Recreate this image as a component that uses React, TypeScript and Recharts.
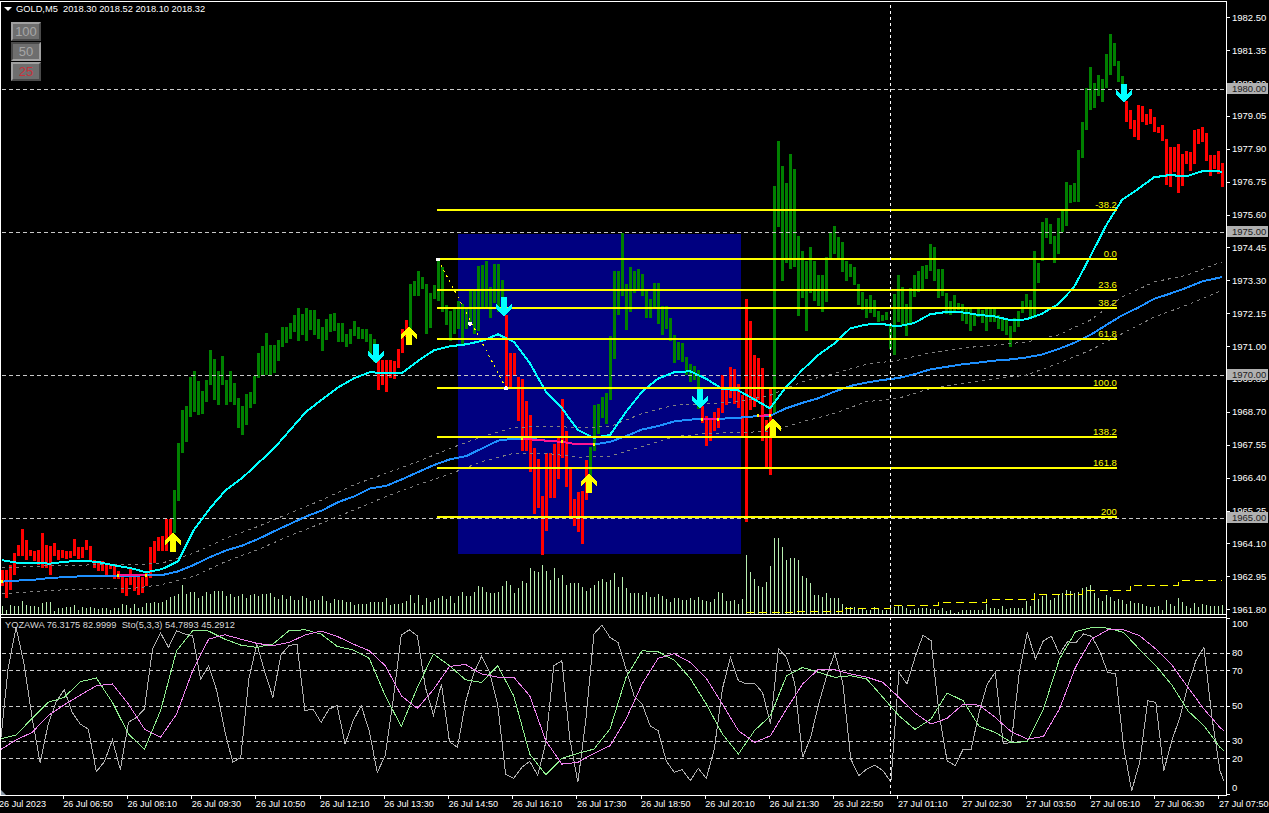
import {
    Bar,
    Cell,
    ComposedChart,
    Line,
    ReferenceArea,
    ReferenceDot,
    ReferenceLine,
    XAxis,
    YAxis,
} from 'recharts';

const FONT = '"Liberation Sans", sans-serif';
const LAST_BAR = 305;

// tops of the candles, one per bar
const highs = [
    1963.2, 1963.2, 1963.37, 1963.78, 1964.07, 1964.62, 1964.25, 1963.9, 1963.87, 1963.9,
    1964.48, 1964.07, 1964.04, 1964.13, 1963.9, 1963.9, 1963.87, 1963.87, 1964.27, 1963.99,
    1963.99, 1964.25, 1964.04, 1963.55, 1963.49, 1963.52, 1963.37, 1963.37, 1963.37, 1963.14,
    1962.97, 1962.91, 1963.22, 1962.97, 1962.94, 1962.94, 1963.08, 1963.99, 1964.19, 1964.34,
    1964.39, 1964.97, 1964.97, 1965.99, 1967.62, 1968.78, 1968.92, 1969.92, 1970.14, 1969.81,
    1969.46, 1969.83, 1970.88, 1970.58, 1970.14, 1970.67, 1969.83, 1970.14, 1969.71, 1969.22,
    1968.92, 1969.36, 1969.42, 1969.97, 1970.76, 1971.02, 1971.49, 1971.05, 1971.05, 1971.22,
    1971.67, 1971.67, 1971.84, 1972.1, 1972.36, 1972.13, 1972.36, 1972.27, 1972.29, 1971.98,
    1971.67, 1971.98, 1972.15, 1972.19, 1971.81, 1971.81, 1971.43, 1971.63, 1971.9, 1971.67,
    1971.63, 1971.63, 1971.43, 1971.25, 1970.53, 1970.53, 1970.53, 1970.53, 1970.49, 1970.9,
    1971.63, 1971.92, 1973.2, 1973.28, 1973.63, 1973.45, 1973.2, 1972.86, 1973.17, 1974.07,
    1973.8, 1972.44, 1972.23, 1972.34, 1972.58, 1972.5, 1972.33, 1972.94, 1972.97, 1973.81,
    1973.87, 1973.98, 1973.08, 1973.9, 1973.9, 1973.33, 1972.09, 1970.79, 1970.76, 1969.92,
    1969.88, 1969.09, 1968.6, 1967.44, 1967.07, 1965.79, 1967.27, 1967.27, 1967.59, 1967.79,
    1969.16, 1968.05, 1966.74, 1965.66, 1965.93, 1965.95, 1967.03, 1967.5, 1968.95, 1968.99,
    1969.23, 1969.38, 1971.36, 1973.66, 1973.66, 1974.97, 1973.18, 1973.77, 1973.63, 1973.7,
    1973.55, 1973.02, 1972.65, 1973.24, 1973.24, 1972.41, 1972.41, 1972.01, 1971.4, 1971.16,
    1971.12, 1970.63, 1970.38, 1970.31, 1970.17, 1968.92, 1968.57, 1968.43, 1968.71, 1968.84,
    1970.0, 1969.48, 1970.28, 1970.21, 1969.69, 1969.3, 1972.67, 1971.88, 1970.7, 1970.59,
    1970.24, 1968.43, 1969.6, 1976.63, 1978.2, 1977.33, 1976.73, 1977.75, 1977.22, 1974.88,
    1974.36, 1974.0, 1974.47, 1974.0, 1973.49, 1973.52, 1974.15, 1975.0, 1975.23, 1974.85,
    1974.65, 1974.0, 1973.9, 1973.77, 1973.2, 1972.9, 1972.67, 1972.79, 1972.64, 1972.23,
    1972.09, 1972.21, 1971.78, 1972.85, 1973.52, 1973.1, 1972.48, 1973.06, 1973.52, 1973.66,
    1973.81, 1973.87, 1974.6, 1974.47, 1973.72, 1973.73, 1972.88, 1972.6, 1972.79, 1972.52,
    1972.5, 1972.32, 1972.32, 1972.15, 1972.32, 1972.27, 1972.32, 1972.32, 1972.32, 1972.09,
    1972.0, 1971.92, 1971.71, 1972.0, 1972.23, 1972.6, 1972.85, 1972.62, 1974.36, 1973.93,
    1975.35, 1975.5, 1975.27, 1974.88, 1975.5, 1975.78, 1976.74, 1976.66, 1976.73, 1977.88,
    1978.86, 1980.03, 1980.78, 1980.23, 1980.49, 1980.35, 1981.22, 1981.92, 1981.6, 1980.99,
    1980.46, 1979.59, 1979.28, 1978.92, 1979.45, 1979.4, 1979.15, 1979.3, 1979.03, 1978.68,
    1978.75, 1978.25, 1977.99, 1977.99, 1978.08, 1977.73, 1977.85, 1977.81, 1978.57, 1978.61,
    1978.68, 1978.47, 1977.71, 1977.7, 1977.85, 1977.43,
];

const lows = [
    1962.62, 1962.21, 1962.5, 1963.03, 1963.67, 1963.67, 1963.55, 1963.67, 1963.49, 1963.37,
    1963.26, 1963.26, 1963.03, 1963.67, 1963.55, 1963.61, 1963.57, 1963.61, 1963.67, 1963.57,
    1963.61, 1963.9, 1963.55, 1963.26, 1963.14, 1963.14, 1962.94, 1963.22, 1962.87, 1962.87,
    1962.39, 1962.27, 1962.68, 1962.44, 1962.33, 1962.39, 1962.62, 1962.91, 1963.43, 1963.84,
    1963.84, 1963.87, 1964.25, 1964.48, 1965.61, 1967.29, 1967.68, 1968.55, 1968.72, 1968.61,
    1968.64, 1969.07, 1969.65, 1969.15, 1968.96, 1969.65, 1968.96, 1969.07, 1968.96, 1968.17,
    1967.91, 1968.26, 1968.87, 1968.99, 1969.89, 1970.0, 1970.0, 1970.0, 1970.08, 1970.5,
    1970.99, 1971.13, 1971.28, 1971.52, 1971.2, 1971.4, 1971.2, 1971.57, 1971.4, 1971.28,
    1970.85, 1971.22, 1971.52, 1971.54, 1971.17, 1971.17, 1970.97, 1971.08, 1971.38, 1971.28,
    1971.28, 1971.17, 1970.7, 1970.47, 1969.5, 1969.65, 1969.42, 1969.89, 1969.85, 1970.24,
    1970.78, 1971.34, 1971.05, 1972.76, 1972.76, 1973.0, 1971.43, 1971.64, 1972.65, 1972.58,
    1972.2, 1971.74, 1971.19, 1971.43, 1971.6, 1971.08, 1971.6, 1971.86, 1971.45, 1971.53,
    1972.36, 1972.36, 1972.0, 1972.53, 1972.21, 1972.15, 1969.53, 1969.59, 1970.0, 1968.39,
    1967.35, 1967.35, 1966.63, 1965.15, 1965.35, 1963.72, 1964.56, 1965.7, 1965.7, 1966.37,
    1967.12, 1966.1, 1965.08, 1964.73, 1964.53, 1964.1, 1965.64, 1966.45, 1967.35, 1967.94,
    1968.52, 1968.31, 1969.13, 1970.56, 1972.09, 1972.76, 1971.57, 1972.2, 1972.86, 1973.03,
    1972.76, 1971.99, 1971.99, 1972.38, 1971.78, 1971.4, 1971.6, 1971.2, 1970.44, 1970.52,
    1970.46, 1970.0, 1969.77, 1969.83, 1968.81, 1968.34, 1967.52, 1967.7, 1968.05, 1968.15,
    1968.69, 1968.95, 1969.2, 1968.99, 1968.85, 1967.87, 1964.88, 1968.78, 1968.9, 1969.13,
    1967.7, 1966.8, 1966.51, 1968.67, 1975.17, 1973.31, 1973.92, 1973.72, 1973.8, 1972.06,
    1972.7, 1971.53, 1972.87, 1972.6, 1972.41, 1972.2, 1972.56, 1974.1, 1974.25, 1974.1,
    1973.6, 1973.28, 1973.43, 1973.14, 1972.44, 1972.29, 1972.0, 1972.17, 1972.03, 1971.86,
    1971.9, 1971.92, 1970.93, 1970.7, 1971.86, 1971.71, 1971.36, 1971.8, 1972.73, 1972.9,
    1972.99, 1973.37, 1973.66, 1973.29, 1972.7, 1972.76, 1972.13, 1972.09, 1972.24, 1972.27,
    1971.9, 1971.78, 1971.53, 1971.71, 1972.03, 1971.83, 1971.53, 1971.86, 1971.86, 1971.63,
    1971.53, 1971.42, 1970.99, 1971.51, 1971.69, 1972.17, 1972.33, 1972.0, 1972.0, 1973.22,
    1974.01, 1974.79, 1974.6, 1973.92, 1974.25, 1975.0, 1975.23, 1976.01, 1976.04, 1976.04,
    1977.58, 1978.58, 1979.28, 1979.36, 1979.77, 1979.56, 1980.03, 1980.5, 1980.81, 1980.25,
    1979.77, 1978.87, 1978.6, 1978.33, 1978.23, 1978.86, 1978.75, 1978.8, 1978.51, 1978.47,
    1978.2, 1976.66, 1976.57, 1977.09, 1976.36, 1976.63, 1977.38, 1977.15, 1977.38, 1978.08,
    1978.17, 1977.5, 1976.97, 1977.21, 1977.03, 1976.57,
];

// bars that closed down, first and last bar of every run
const redRuns = [
    [0, 42],
    [94, 101],
    [126, 146],
    [175, 192],
    [281, 305],
];

const volumes = [
    33, 17, 37, 33, 33, 53, 36, 33, 33, 29,
    43, 47, 49, 11, 24, 25, 27, 27, 36, 17,
    28, 25, 27, 23, 19, 24, 24, 15, 23, 23,
    41, 36, 24, 41, 24, 28, 45, 45, 48, 44,
    47, 55, 67, 73, 81, 117, 81, 88, 89, 64,
    71, 89, 81, 93, 93, 93, 71, 79, 67, 71,
    81, 64, 76, 81, 73, 79, 81, 84, 67, 61,
    77, 61, 71, 55, 57, 71, 64, 53, 57, 57,
    73, 51, 44, 61, 57, 57, 49, 47, 36, 39,
    41, 41, 49, 49, 49, 49, 64, 37, 41, 41,
    44, 51, 77, 44, 75, 37, 64, 48, 57, 64,
    73, 61, 73, 44, 74, 89, 73, 73, 89, 113,
    110, 89, 84, 84, 89, 113, 133, 118, 84, 105,
    133, 126, 184, 173, 170, 197, 173, 137, 184, 144,
    157, 117, 124, 126, 126, 110, 94, 104, 117, 133,
    141, 130, 138, 164, 110, 148, 104, 84, 84, 84,
    77, 90, 68, 70, 80, 74, 60, 47, 64, 64,
    55, 57, 64, 57, 70, 55, 51, 47, 61, 88,
    84, 53, 53, 55, 40, 61, 237, 168, 141, 113,
    110, 130, 193, 303, 303, 270, 217, 226, 223, 217,
    153, 144, 124, 77, 77, 70, 84, 64, 64, 64,
    41, 28, 28, 28, 24, 20, 17, 15, 28, 24,
    15, 15, 36, 28, 31, 31, 24, 17, 20, 24,
    24, 24, 21, 19, 17, 23, 11, 17, 4, 7,
    15, 15, 15, 15, 15, 15, 41, 24, 24, 20,
    33, 20, 23, 24, 24, 24, 51, 31, 84, 60,
    73, 80, 57, 64, 77, 84, 97, 94, 86, 90,
    104, 110, 117, 84, 64, 51, 77, 70, 51, 60,
    57, 41, 51, 44, 44, 41, 33, 28, 28, 31,
    17, 57, 41, 33, 64, 48, 33, 25, 44, 28,
    41, 37, 31, 33, 33, 37,
];

// yellow volume average, steps once an hour
const volumeAvgBars = [186, 198, 210, 222, 234, 246, 258, 270, 282, 294, 305];
const volumeAvg = [5, 10, 24, 36, 48, 60, 80, 96, 116, 133, 133];

// read every 4th bar, last entry is the last bar
const maFast = [
    1963.53, 1963.44, 1963.44, 1963.41, 1963.48, 1963.51, 1963.47, 1963.35, 1963.26, 1963.11,
    1963.22, 1963.49, 1964.6, 1965.35, 1965.99, 1966.4, 1966.92, 1967.44, 1968.08, 1968.72,
    1969.15, 1969.57, 1969.89, 1970.11, 1970.06, 1970.08, 1970.5, 1970.87, 1971.01, 1971.08,
    1971.2, 1971.43, 1971.16, 1970.41, 1969.42, 1968.84, 1968.08, 1967.81, 1967.91, 1968.72,
    1969.42, 1969.88, 1970.1, 1970.14, 1969.88, 1969.53, 1969.47, 1969.16, 1968.84, 1969.59,
    1970.17, 1970.7, 1971.1, 1971.63, 1971.77, 1971.79, 1971.71, 1971.82, 1972.13, 1972.21,
    1972.2, 1972.11, 1972.06, 1971.93, 1971.95, 1972.15, 1972.48, 1973.08, 1974.13, 1975.23,
    1976.13, 1976.51, 1976.92, 1977.0, 1976.95, 1977.13, 1977.15, 1977.1,
];

const maSlow = [
    1962.78, 1962.82, 1962.85, 1962.91, 1962.94, 1962.97, 1962.99, 1962.99, 1962.99, 1963.0,
    1963.01, 1963.14, 1963.37, 1963.64, 1963.87, 1964.04, 1964.27, 1964.54, 1964.8, 1965.06,
    1965.27, 1965.56, 1965.76, 1966.04, 1966.13, 1966.36, 1966.61, 1966.86, 1967.06, 1967.17,
    1967.44, 1967.71, 1967.78, 1967.78, 1967.71, 1967.67, 1967.58, 1967.58, 1967.67, 1967.87,
    1968.1, 1968.22, 1968.38, 1968.45, 1968.46, 1968.48, 1968.51, 1968.56, 1968.58, 1968.84,
    1969.03, 1969.19, 1969.42, 1969.62, 1969.74, 1969.83, 1969.9, 1970.03, 1970.2, 1970.29,
    1970.38, 1970.44, 1970.51, 1970.55, 1970.62, 1970.72, 1970.91, 1971.13, 1971.4, 1971.75,
    1972.09, 1972.36, 1972.67, 1972.85, 1973.05, 1973.28, 1973.4, 1973.43,
];

// stretches where the slow average turns pink
const slowDownBars = [
    [29, 36],
    [130, 136, 140, 144, 148],
    [175, 179],
    [189, 192],
];
const slowDownPrices = [
    [1963.0, 1963.0],
    [1967.78, 1967.71, 1967.67, 1967.58, 1967.58],
    [1968.46, 1968.46],
    [1968.58, 1968.6],
];
const slowTipBars = [0, 29, 36, 130, 140, 148, 175, 179, 189, 192];
const slowTipPrices = [1962.78, 1963.0, 1963.0, 1967.78, 1967.67, 1967.58, 1968.46, 1968.46, 1968.58, 1968.6];

// read every 8th bar, last entry is the last bar
const bandUpper = [
    1963.26, 1963.32, 1963.35, 1963.37, 1963.37, 1963.43, 1963.78, 1964.3, 1964.71, 1965.18,
    1965.64, 1966.17, 1966.57, 1966.98, 1967.44, 1967.85, 1968.17, 1968.22, 1968.17, 1968.2,
    1968.66, 1968.95, 1968.99, 1969.07, 1969.3, 1969.77, 1970.06, 1970.38, 1970.52, 1970.78,
    1970.95, 1971.05, 1971.16, 1971.4, 1971.92, 1972.73, 1973.26, 1973.49, 1973.92, 1973.95,
];
const bandLower = [
    1962.36, 1962.44, 1962.5, 1962.53, 1962.53, 1962.68, 1962.97, 1963.49, 1963.9, 1964.39,
    1964.83, 1965.29, 1965.76, 1966.17, 1966.55, 1966.98, 1967.27, 1967.27, 1967.13, 1967.17,
    1967.5, 1967.85, 1967.96, 1968.0, 1968.03, 1968.37, 1968.66, 1969.07, 1969.19, 1969.53,
    1969.71, 1969.88, 1970.0, 1970.41, 1970.87, 1971.45, 1972.03, 1972.44, 1972.91, 1972.95,
];

const fibLabels = ['-38.2', '0.0', '23.6', '38.2', '61.8', '100.0', '138.2', '161.8', '200'];
const fibPrices = [1975.76, 1974.05, 1972.97, 1972.34, 1971.26, 1969.55, 1967.84, 1966.76, 1965.05];
const fibStartBar = 109;
const fibEndBar = 278.3;

// the drawn box starts and ends between bars
const boxStartBar = 114.2;
const boxEndBar = 184.75;

const buyBars = [43, 102, 147, 193];
const buyPrices = [1964.49, 1971.71, 1966.55, 1968.5];
const sellBars = [93, 125, 174, 280];
const sellPrices = [1970.42, 1972.06, 1968.85, 1979.53];

const priceDomain = [1961.65, 1983.05];
const priceTicks = [
    1982.5, 1981.35, 1980.2, 1979.05, 1977.9, 1976.75, 1975.6, 1974.45, 1973.3, 1972.15,
    1971.0, 1969.85, 1968.7, 1967.55, 1966.4, 1965.25, 1964.1, 1962.95, 1961.8,
];
const roundPrices = [1980, 1975, 1970, 1965];

const stochTicks = [0, 20, 30, 50, 70, 80, 100];
const stochLevels = [20, 30, 50, 70, 80];

// read every 2nd bar, last entry is the last bar
const yozawa = [
    26.5, 71, 94.7, 73.8, 43.5, 17.6, 39.7, 52.4, 59.3, 46.4,
    39.7, 36.9, 12.7, 18.3, 30.8, 13.8, 40.7, 43.5, 48.3, 82.4,
    91.5, 83.3, 92.8, 90.9, 89.9, 65.3, 72.9, 58.7, 36, 18,
    20.8, 65.3, 85.2, 69.1, 54.9, 79, 84.3, 85.2, 47.3, 48.3,
    40.7, 48.3, 50.2, 28.4, 41.6, 50.2, 36, 12.3, 21.8, 53.9,
    90.3, 93.3, 89.9, 60.6, 44.9, 62.5, 29.7, 26.5, 52.1, 68.2,
    78.2, 69.1, 51.1, 11.3, 8.9, 15.1, 18.5, 10.8, 29.3, 72.9,
    75.7, 31.2, 6.6, 42.6, 90.9, 96, 89, 86.1, 71, 55.8,
    51.1, 38.8, 35.9, 18.9, 12.3, 13.8, 7.6, 14.6, 8.9, 25.5,
    59.6, 77.6, 64.4, 62.5, 63, 57.7, 39.7, 82.7, 77.6, 63.4,
    20.8, 32.2, 51.1, 67.2, 80.1, 63.4, 19.9, 10.4, 14.2, 16.4,
    13.2, 7, 69.1, 62.5, 77.6, 90.3, 87.1, 45.4, 18.9, 16.1,
    25.5, 25.5, 46.4, 62.5, 69.1, 28.4, 29.3, 69.1, 91.8, 76.7,
    87.1, 89.6, 79.5, 86.5, 85.8, 90.9, 89.6, 81.4, 69.1, 68.2,
    26.5, 1.9, 18, 53, 52.1, 13.2, 30.3, 43.5, 61.5, 75.7,
    83.3, 43.5, 13.2, 7.2,
];

// read every 4th bar, last entry is the last bar
const stochMain = [
    31.2, 33.5, 43, 52.1, 54.9, 63.8, 65.9, 52.1, 34.1, 25.5,
    47.3, 81.4, 92.8, 92.6, 88, 84.6, 83.3, 85.2, 92.8, 93.3,
    90.9, 83.9, 81.8, 77.1, 55.8, 38.4, 60.6, 79.5, 72.9, 64.9,
    63.4, 72.9, 55.8, 22.7, 11, 20.2, 23.1, 25.5, 36.9, 66.3,
    81.4, 80.8, 76.1, 65.7, 51.1, 34.1, 22.7, 36, 44.5, 67.2,
    71.9, 69.1, 66.3, 67.2, 65.3, 54.9, 44.5, 36.7, 42.6, 57.4,
    53, 38.4, 35, 29.3, 29.7, 48.3, 76.7, 92.2, 94.5, 94.3,
    91.8, 82, 72.9, 61.9, 47.3, 38.8, 26.5, 24.6,
];
const stochSignal = [
    25, 30.7, 35, 44.5, 50.7, 56.2, 61.5, 62.5, 51.1, 36.9,
    32.2, 45.4, 70, 88, 90.5, 88, 85.6, 84.3, 86.1, 90.3,
    92.6, 89.6, 85.2, 81.4, 72.9, 55.8, 48.6, 59.3, 72.5, 73.6,
    68.2, 66.4, 66.4, 55.8, 30.3, 17, 18, 23.1, 27.4, 42.6,
    62.5, 77.1, 79.7, 74.8, 65.7, 51.1, 36, 29.3, 33.1, 48.3,
    62.5, 71, 70.6, 68.2, 66.4, 63.4, 54.9, 46, 39.7, 43,
    51.1, 50.5, 43.5, 35.4, 31.2, 32.7, 48.3, 72, 88, 93.2,
    93.3, 89.9, 82.4, 73.3, 60.6, 48.3, 37.8, 36,
];

const timeTickBars = [
    0, 16, 32, 48, 64, 80, 96, 112, 128, 144,
    160, 176, 192, 208, 224, 240, 256, 272, 288, 304,
];
const timeLabels = [
    '26 Jul 2023', '26 Jul 06:50', '26 Jul 08:10', '26 Jul 09:30', '26 Jul 10:50',
    '26 Jul 12:10', '26 Jul 13:30', '26 Jul 14:50', '26 Jul 16:10', '26 Jul 17:30',
    '26 Jul 18:50', '26 Jul 20:10', '26 Jul 21:30', '26 Jul 22:50', '27 Jul 01:10',
    '27 Jul 02:30', '27 Jul 03:50', '27 Jul 05:10', '27 Jul 06:30', '27 Jul 07:50',
];

const sampled = (list: number[], step: number, i: number) => {
    if (i === LAST_BAR) return list[list.length - 1];
    return i % step === 0 ? list[i / step] : null;
};

const pick = (bars: number[], values: number[], i: number) => {
    const at = bars.indexOf(i);
    return at < 0 ? null : values[at];
};

const rows = highs.map((high, i) => {
    const row: Record<string, unknown> = {
        i,
        range: [lows[i], high],
        down: redRuns.some(([a, b]) => i >= a && i <= b),
        volume: volumes[i],
        volumeAvg: pick(volumeAvgBars, volumeAvg, i),
        maFast: sampled(maFast, 4, i),
        maSlow: sampled(maSlow, 4, i),
        bandUpper: sampled(bandUpper, 8, i),
        bandLower: sampled(bandLower, 8, i),
        yozawa: sampled(yozawa, 2, i),
        stochMain: sampled(stochMain, 4, i),
        stochSignal: sampled(stochSignal, 4, i),
        buy: pick(buyBars, buyPrices, i),
        sell: pick(sellBars, sellPrices, i),
    };
    slowDownBars.forEach((bars, s) => {
        row[`slowDown${s}`] = pick(bars, slowDownPrices[s], i);
    });
    return row;
});

const ArrowUp = (props: any) => {
    const { cx, cy, value, index } = props;
    if (cx == null || cy == null || value == null) return <g key={index} />;
    return (
        <polygon
            key={index}
            transform={`translate(${cx - 1},${cy})`}
            points="0,0 8,8 8,13 3,8 3,19 -3,19 -3,8 -8,13 -8,8"
            fill="#ffff00"
        />
    );
};

const ArrowDown = (props: any) => {
    const { cx, cy, value, index } = props;
    if (cx == null || cy == null || value == null) return <g key={index} />;
    return (
        <polygon
            key={index}
            transform={`translate(${cx + 2},${cy})`}
            points="0,0 8,-8 8,-13 3,-8 3,-19 -3,-19 -3,-8 -8,-13 -8,-8"
            fill="#00ffff"
        />
    );
};

const PriceTick = ({ y, payload }: any) => (
    <g>
        <line x1={1226} x2={1230} y1={y} y2={y} stroke="#ffffff" />
        <text x={1232} y={y + 3} fill="#ffffff" fontSize={9.5} fontFamily={FONT}>
            {payload.value.toFixed(2)}
        </text>
    </g>
);

const StochTick = ({ y, payload }: any) => {
    let shift = 3;
    if (payload.value === 100) shift = 9;
    if (payload.value === 0) shift = -3;
    return (
        <g>
            <line x1={1226} x2={1230} y1={y} y2={y} stroke="#ffffff" />
            <text x={1232} y={y + shift} fill="#ffffff" fontSize={9.5} fontFamily={FONT}>
                {payload.value}
            </text>
        </g>
    );
};

// y is local to the lower chart, which starts at 618 on the page
const TimeTick = ({ x, payload }: any) => (
    <g>
        <line x1={x - 1} x2={x - 1} y1={178} y2={181} stroke="#ffffff" />
        <text x={x - 1} y={189} fill="#ffffff" fontSize={9.1} fontFamily={FONT}>
            {timeLabels[timeTickBars.indexOf(payload.value)]}
        </text>
    </g>
);

const frameLines = [
    { left: 0, top: 1, width: 1227, height: 1 },
    { left: 0, top: 1, width: 1, height: 795 },
    { left: 1226, top: 1, width: 1, height: 795 },
    { left: 0, top: 614, width: 1227, height: 1 },
    { left: 0, top: 617, width: 1227, height: 1 },
    { left: 0, top: 795, width: 1227, height: 1 },
];

const buttons = [
    { label: '100', top: 22, color: '#a6a6a6', pressed: false },
    { label: '50', top: 42, color: '#a6a6a6', pressed: true },
    { label: '25', top: 62, color: '#c8323c', pressed: false },
];

export default function App() {
    return (
        <div
            style={{
                position: 'fixed',
                left: 0,
                top: 0,
                width: 1269,
                height: 813,
                background: '#000000',
                overflow: 'hidden',
                shapeRendering: 'crispEdges',
            }}
        >
            <div style={{ position: 'absolute', left: 0, top: 0 }}>
                <ComposedChart
                    width={1269}
                    height={614}
                    data={rows}
                    margin={{ top: 2, right: 45, bottom: 0, left: 0 }}
                >
                    <XAxis dataKey="i" hide />
                    <YAxis hide domain={[0, 2448]} allowDataOverflow />
                    <Bar dataKey="volume" barSize={1} fill="#b8eeb0" isAnimationActive={false} />
                    <Line
                        dataKey="volumeAvg"
                        type="stepAfter"
                        stroke="#ffff00"
                        strokeDasharray="8 5"
                        dot={false}
                        connectNulls
                        isAnimationActive={false}
                    />
                </ComposedChart>
            </div>

            <div style={{ position: 'absolute', left: 0, top: 0 }}>
                <ComposedChart
                    width={1269}
                    height={614}
                    data={rows}
                    margin={{ top: 2, right: 0, bottom: 0, left: 0 }}
                >
                    <XAxis dataKey="i" hide />
                    <XAxis xAxisId="between" type="number" domain={[-0.5, 305.5]} hide />
                    <YAxis
                        orientation="right"
                        width={45}
                        domain={priceDomain}
                        ticks={priceTicks}
                        interval={0}
                        allowDataOverflow
                        axisLine={false}
                        tickLine={false}
                        tick={<PriceTick />}
                    />
                    <ReferenceArea
                        xAxisId="between"
                        x1={boxStartBar}
                        x2={boxEndBar}
                        y1={1963.75}
                        y2={1974.95}
                        fill="#000080"
                        fillOpacity={1}
                        stroke="none"
                    />
                    {roundPrices.map((p) => (
                        <ReferenceLine key={p} y={p} stroke="#c8c8c8" strokeDasharray="4 3" />
                    ))}
                    <Bar dataKey="range" barSize={3} isAnimationActive={false}>
                        {rows.map((row) => (
                            <Cell key={String(row.i)} fill={row.down ? '#ff0000' : '#008000'} />
                        ))}
                    </Bar>
                    <Line dataKey="bandUpper" stroke="#808080" strokeDasharray="3 4" dot={false} connectNulls isAnimationActive={false} />
                    <Line dataKey="bandLower" stroke="#808080" strokeDasharray="3 4" dot={false} connectNulls isAnimationActive={false} />
                    <Line dataKey="maSlow" stroke="#1e90ff" strokeWidth={2} dot={false} connectNulls isAnimationActive={false} />
                    {slowDownBars.map((_, s) => (
                        <Line
                            key={s}
                            dataKey={`slowDown${s}`}
                            stroke="#ff1493"
                            strokeWidth={2}
                            dot={false}
                            connectNulls
                            isAnimationActive={false}
                        />
                    ))}
                    {slowTipBars.map((bar, t) => (
                        <ReferenceDot
                            key={t}
                            x={bar}
                            y={slowTipPrices[t]}
                            r={1.5}
                            fill="#ffff00"
                            stroke="none"
                        />
                    ))}
                    <Line dataKey="maFast" stroke="#00ffff" strokeWidth={2} dot={false} connectNulls isAnimationActive={false} />
                    {fibLabels.map((label, f) => (
                        <ReferenceLine
                            key={label}
                            xAxisId="between"
                            segment={[
                                { x: fibStartBar, y: fibPrices[f] },
                                { x: fibEndBar, y: fibPrices[f] },
                            ]}
                            stroke="#ffff00"
                            strokeWidth={2}
                            label={({ viewBox }: any) => (
                                <text
                                    x={viewBox.x + viewBox.width}
                                    y={viewBox.y - 2}
                                    textAnchor="end"
                                    fill="#ffff00"
                                    fontSize={9.5}
                                    fontFamily={FONT}
                                >
                                    {label}
                                </text>
                            )}
                        />
                    ))}
                    <ReferenceLine
                        segment={[
                            { x: 109, y: 1974.05 },
                            { x: 126, y: 1969.55 },
                        ]}
                        stroke="#ffff00"
                        strokeDasharray="2 4"
                    />
                    <ReferenceDot x={109} y={1974.05} r={2} fill="#ffffff" stroke="none" />
                    <ReferenceDot x={117} y={1971.8} r={2} fill="#ffffff" stroke="none" />
                    <ReferenceDot x={126} y={1969.55} r={2} fill="#ffffff" stroke="none" />
                    <ReferenceLine x={222} stroke="#ffffff" strokeDasharray="3 3" />
                    <Line dataKey="buy" stroke="none" dot={ArrowUp} isAnimationActive={false} />
                    <Line dataKey="sell" stroke="none" dot={ArrowDown} isAnimationActive={false} />
                </ComposedChart>
            </div>

            {/* round price tags sit on top of the axis labels */}
            <div style={{ position: 'absolute', left: 0, top: 0 }}>
                <ComposedChart
                    width={1269}
                    height={614}
                    data={rows}
                    margin={{ top: 2, right: 0, bottom: 0, left: 0 }}
                >
                    <XAxis dataKey="i" hide />
                    <YAxis orientation="right" width={45} domain={priceDomain} allowDataOverflow tick={false} axisLine={false} tickLine={false} />
                    {roundPrices.map((p) => (
                        <ReferenceLine
                            key={p}
                            y={p}
                            stroke="none"
                            label={({ viewBox }: any) => (
                                <g>
                                    <rect x={1227} y={viewBox.y - 6} width={41} height={11} fill="#b0b0b0" />
                                    <text x={1232} y={viewBox.y + 3} fill="#202020" fontSize={9.5} fontFamily={FONT}>
                                        {p.toFixed(2)}
                                    </text>
                                </g>
                            )}
                        />
                    ))}
                </ComposedChart>
            </div>

            <div style={{ position: 'absolute', left: 0, top: 618 }}>
                <ComposedChart
                    width={1269}
                    height={196}
                    data={rows}
                    margin={{ top: 0, right: 0, bottom: 0, left: 0 }}
                >
                    <XAxis
                        dataKey="i"
                        height={20}
                        ticks={timeTickBars}
                        interval={0}
                        axisLine={false}
                        tickLine={false}
                        tick={<TimeTick />}
                    />
                    <YAxis
                        orientation="right"
                        width={45}
                        domain={[0, 100]}
                        ticks={stochTicks}
                        interval={0}
                        axisLine={false}
                        tickLine={false}
                        tick={<StochTick />}
                    />
                    {stochLevels.map((level) => (
                        <ReferenceLine key={level} y={level} stroke="#c8c8c8" strokeDasharray="4 3" />
                    ))}
                    <Line dataKey="yozawa" stroke="#b0b0b0" dot={false} connectNulls isAnimationActive={false} />
                    <Line dataKey="stochMain" stroke="#90ee90" dot={false} connectNulls isAnimationActive={false} />
                    <Line dataKey="stochSignal" stroke="#ee82ee" dot={false} connectNulls isAnimationActive={false} />
                    <ReferenceLine x={222} stroke="#ffffff" strokeDasharray="3 3" />
                </ComposedChart>
            </div>

            {frameLines.map((line, n) => (
                <div key={n} style={{ position: 'absolute', background: '#ffffff', ...line }} />
            ))}

            <div
                style={{
                    position: 'absolute',
                    left: 4,
                    top: 7,
                    width: 0,
                    height: 0,
                    borderLeft: '4px solid transparent',
                    borderRight: '4px solid transparent',
                    borderTop: '4px solid #ffffff',
                }}
            />
            <div
                style={{
                    position: 'absolute',
                    left: 16,
                    top: 3,
                    color: '#ffffff',
                    font: `9.3px ${FONT}`,
                    lineHeight: '12px',
                    whiteSpace: 'pre',
                }}
            >
                {'GOLD,M5  2018.30 2018.52 2018.10 2018.32'}
            </div>
            <div
                style={{
                    position: 'absolute',
                    left: 5,
                    top: 619,
                    color: '#d8d8d8',
                    font: `9.3px ${FONT}`,
                    lineHeight: '12px',
                    whiteSpace: 'pre',
                }}
            >
                {'YOZAWA 76.3175 82.9999  Sto(5,3,3) 54.7893 45.2912'}
            </div>
            <div
                style={{
                    position: 'absolute',
                    left: 1,
                    top: 790,
                    width: 0,
                    height: 0,
                    borderBottom: '5px solid #8c9aa8',
                    borderRight: '5px solid transparent',
                }}
            />

            {buttons.map((b) => (
                <div
                    key={b.label}
                    style={{
                        position: 'absolute',
                        boxSizing: 'border-box',
                        left: 11,
                        top: b.top,
                        width: 30,
                        height: 19,
                        background: '#6e6e6e',
                        borderStyle: 'solid',
                        borderWidth: 2,
                        borderColor: b.pressed
                            ? '#4a4a4a #a0a0a0 #a0a0a0 #4a4a4a'
                            : '#a0a0a0 #4a4a4a #4a4a4a #a0a0a0',
                        color: b.color,
                        font: `13px ${FONT}`,
                        lineHeight: '15px',
                        textAlign: 'center',
                    }}
                >
                    {b.label}
                </div>
            ))}
        </div>
    );
}
